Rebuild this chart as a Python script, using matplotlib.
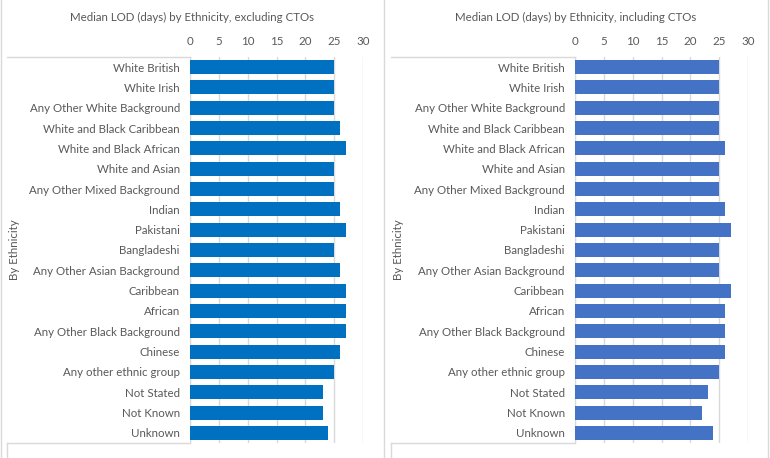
import matplotlib
matplotlib.use('Agg')
import matplotlib.pyplot as plt
from matplotlib.lines import Line2D
import numpy as np

plt.rcParams['font.family'] = ['Lato', 'DejaVu Sans']

# data
ethnicity = ['White British', 'White Irish', 'Any Other White Background',
             'White and Black Caribbean', 'White and Black African',
             'White and Asian', 'Any Other Mixed Background', 'Indian',
             'Pakistani', 'Bangladeshi', 'Any Other Asian Background',
             'Caribbean', 'African', 'Any Other Black Background', 'Chinese',
             'Any other ethnic group', 'Not Stated', 'Not Known', 'Unknown']
lod_excl = [25, 25, 25, 26, 27, 25, 25, 26, 27, 25, 26, 27, 27, 27, 26, 25, 23, 23, 24]
lod_incl = [25, 25, 25, 25, 26, 25, 25, 26, 27, 25, 25, 27, 26, 26, 26, 25, 23, 22, 24]
ticks = [0, 5, 10, 15, 20, 25, 30]

W, H = 770, 458
txt = '#595959'
grid = '#D9D9D9'
fs = 8.3

fig = plt.figure(figsize=(W / 100, H / 100), dpi=100)


def px(x, y):
    return x / W, 1 - y / H


def panel(x0, vals, colour, title, pleft, pright):
    left, top = px(x0, 57)
    ax = fig.add_axes([left, 1 - 443 / H, 173 / W, (443 - 57) / H])
    y = np.arange(len(ethnicity))
    ax.barh(y, vals, height=0.69, color=colour, zorder=3)
    ax.set_xlim(0, 30)
    ax.set_ylim(len(ethnicity) - 0.5, -0.5)
    ax.set_xticks(ticks)
    ax.xaxis.tick_top()
    ax.set_yticks(y)
    ax.set_yticklabels(ethnicity)
    ax.tick_params(length=0, labelsize=fs, labelcolor=txt)
    ax.tick_params(axis='x', pad=7.5)
    ax.tick_params(axis='y', pad=7.3)
    ax.grid(axis='x', color=grid, lw=1, zorder=0)
    for s in ['top', 'right', 'bottom']:
        ax.spines[s].set_visible(False)
    ax.spines['left'].set_color(grid)
    # multi-level category brackets
    for yy in (57, 443):
        a, b = px(pleft + 7, yy)
        c, _ = px(x0, yy)
        fig.add_artist(Line2D([a, c], [b, b], color=grid, lw=1))
    a, b = px(pleft + 7, 443)
    fig.add_artist(Line2D([a, a], [b, 0], color=grid, lw=1))
    fig.text((pleft + 15) / W, 1 - 250 / H, 'By Ethnicity', rotation=90,
             ha='center', va='center', fontsize=fs, color=txt)
    fig.text((pleft + pright) / 2 / W, 1 - 17 / H, title, ha='center',
             va='center', fontsize=fs, color=txt)
    return ax


panel(190, lod_excl, '#0070C0',
      'Median LOD (days) by Ethnicity, excluding CTOs', 0, 384)
panel(575, lod_incl, '#4472C4',
      'Median LOD (days) by Ethnicity, including CTOs', 384, 768)

# chart borders
for xb in (0.5, 384, 768):
    fig.add_artist(Line2D([xb / W, xb / W], [0, 1], color=grid, lw=1))

fig.savefig('out.png', dpi=100)
